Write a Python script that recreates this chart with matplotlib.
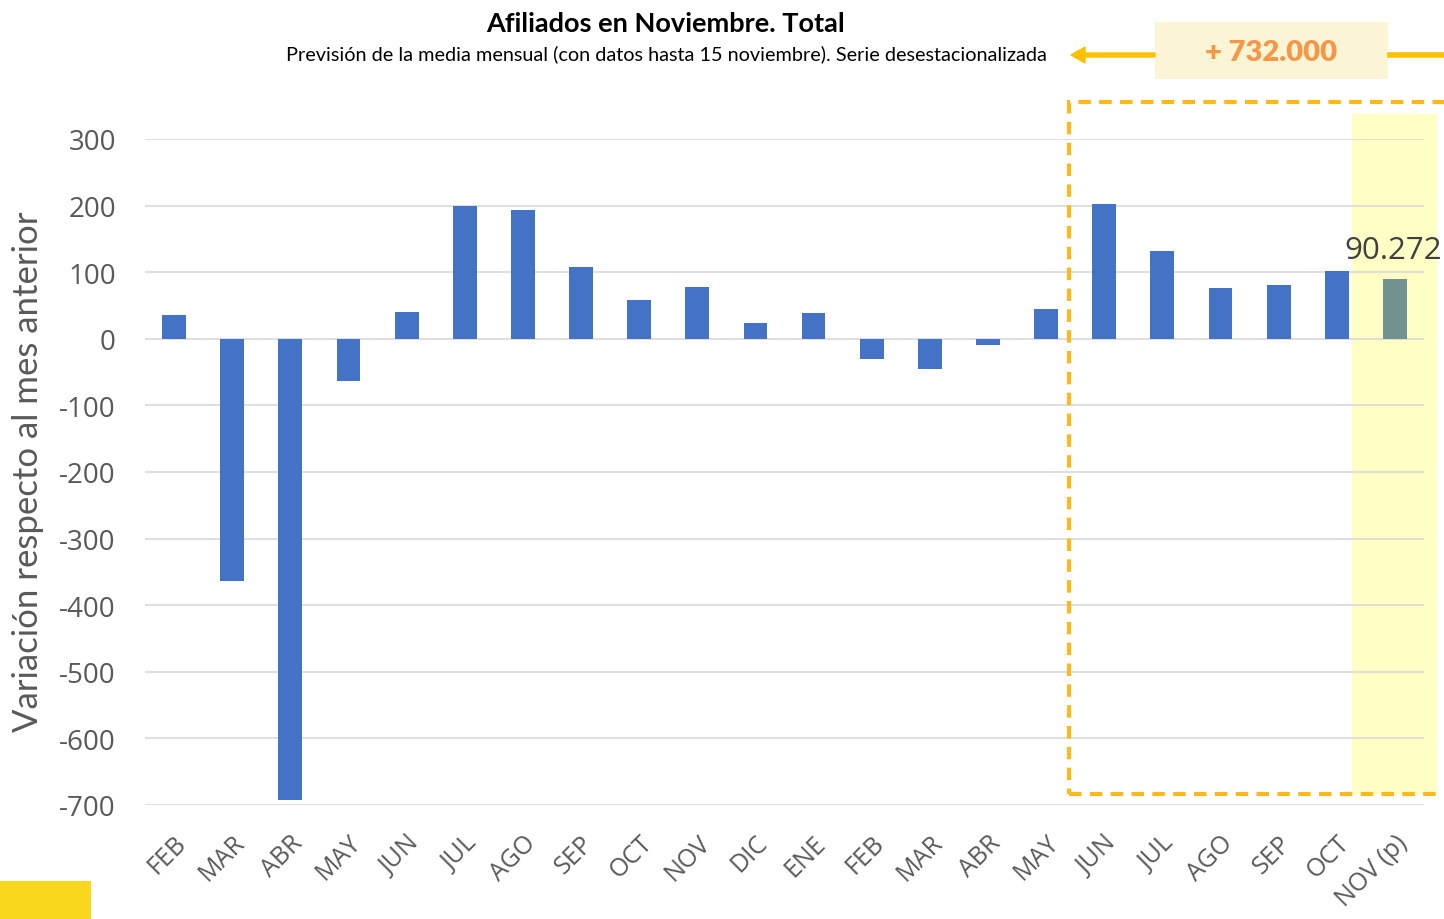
import matplotlib.pyplot as plt
import matplotlib.patches as mp
import numpy as np

months = ['FEB', 'MAR', 'ABR', 'MAY', 'JUN', 'JUL', 'AGO', 'SEP', 'OCT', 'NOV', 'DIC',
          'ENE', 'FEB', 'MAR', 'ABR', 'MAY', 'JUN', 'JUL', 'AGO', 'SEP', 'OCT', 'NOV (p)']
values = [35, -363, -692, -63, 40, 200, 194, 108, 59, 78, 24,
          39, -30, -45, -10, 45, 203, 132, 77, 81, 102, 90.272]
last_label = '90.272'
total_label = '+ 732.000'
yticks = list(range(-700, 301, 100))

blue = '#4472C4'
grey_bar = '#71938F'
gold = '#FFC000'

fig = plt.figure(figsize=(14.44, 9.2), dpi=100)
ax = fig.add_axes([145/1444, 1 - 806/920, (1424-145)/1444, (806-140)/920])

x = np.arange(len(months))
colors = [blue] * (len(months) - 1) + [grey_bar]

# highlight band for the forecast month
ax.add_patch(mp.Rectangle((20.26, -683), 1.46, 1020, facecolor='#FFFFC5', edgecolor='none',
                          zorder=0, clip_on=False))

ax.bar(x, values, width=0.41, color=colors, zorder=3)

ax.set_ylim(-700, 300)
ax.set_xlim(-0.5, len(months) - 0.5)
ax.set_yticks(yticks)
ax.set_yticklabels([str(v) for v in yticks], fontsize=20, color='#595959', family='Open Sans')
ax.set_xticks(x)
ax.set_xticklabels(months, rotation=45, ha='right', rotation_mode='anchor', fontsize=18,
                   color='#595959', family='Open Sans')
ax.tick_params(axis='y', length=0, pad=21)
ax.tick_params(axis='x', length=0, pad=18)
ax.grid(axis='y', color='#D9D9D9', linewidth=1.2, zorder=1)
for s in ax.spines.values():
    s.set_visible(False)

fig.text(28/1444, 1 - 472/920, 'Variación respecto al mes anterior', rotation=90,
         ha='center', va='center', fontsize=25, color='#595959', family='Lato')

ax.annotate(last_label, (x[-1], values[-1]), xytext=(-1, 10), textcoords='offset points',
            ha='center', va='bottom', fontsize=22.5, color='#404040', family='Open Sans',
            annotation_clip=False, zorder=4)

# dashed box around recent months
ax.add_patch(mp.Rectangle((15.39, -683), 7.0, 1038, facecolor='none', edgecolor='#FFB81C',
                          linestyle=(0, (3, 2)), linewidth=3, zorder=5, clip_on=False))

# titles
fig.text(666/1444, 1 - 24/920, 'Afiliados en Noviembre. Total', ha='center', va='center',
         fontsize=19.5, fontweight='bold', family='Lato')
fig.text(666/1444, 1 - 54/920, 'Previsión de la media mensual (con datos hasta 15 noviembre). Serie desestacionalizada',
         ha='center', va='center', fontsize=14.3, family='Lato')

# total box with arrow
fig.patches.append(mp.Rectangle((1155/1444, 1 - 80/920), 233/1444, 57/920, facecolor='#FBF5D5',
                                edgecolor='none', transform=fig.transFigure))
fig.text(1271/1444, 1 - 53/920, total_label, ha='center', va='center', fontsize=21,
         fontweight='heavy', color='#F79646', family='Lato')
fig.patches.append(mp.FancyArrow(1155/1444, 1 - 56/920, -84/1444, 0, width=4/920,
                                 head_width=16/920, head_length=14/1444, length_includes_head=True,
                                 color=gold, transform=fig.transFigure))
fig.lines.append(plt.Line2D([1390/1444, 1], [1 - 56/920, 1 - 56/920], color=gold, linewidth=4,
                            transform=fig.transFigure))

# small yellow tab bottom-left
fig.patches.append(mp.Rectangle((0, 0), 91/1444, 38/920, facecolor='#F9D71C', edgecolor='none',
                                transform=fig.transFigure))

fig.savefig('out.png', dpi=100)
